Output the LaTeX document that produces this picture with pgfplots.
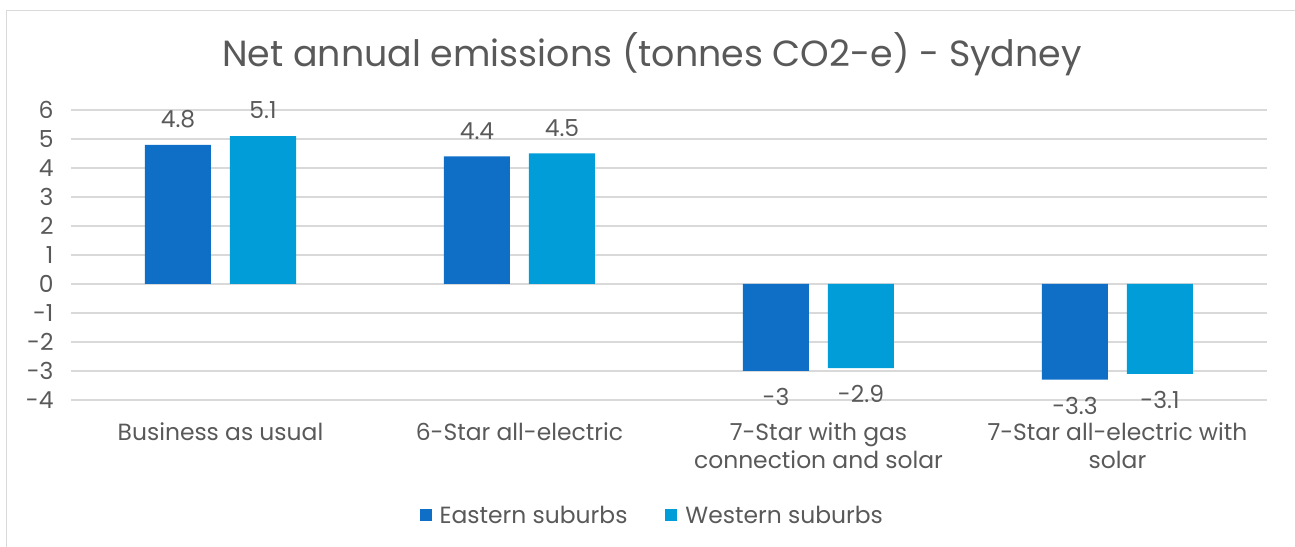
\documentclass[border=0pt]{standalone}
\usepackage{pgfplots}
\pgfplotsset{compat=1.18}
\usepackage{fontspec}
\setmainfont{Poppins}
\definecolor{eastern}{HTML}{0F6FC6}
\definecolor{western}{HTML}{009DD9}
\definecolor{txt}{HTML}{595959}
\definecolor{gridgray}{HTML}{D9D9D9}
\newcommand{\lblfont}{\fontsize{23.5}{28.5}\selectfont}
\begin{document}
\begin{tikzpicture}[x=1bp,y=1bp]
\useasboundingbox (0,0) rectangle (1295,547);
% chart frame (left and top edges)
\draw[gridgray, line width=1.5bp] (6.5,0) -- (6.5,536.5) -- (1295,536.5);
\node[txt, anchor=base, font=\fontsize{36.5}{40}\selectfont] at (652,480)
  {Net annual emissions (tonnes CO2-e) - Sydney};
\begin{axis}[
  at={(71bp,147bp)}, anchor=south west,
  scale only axis, width=1196bp, height=290bp,
  xmin=-0.5, xmax=3.5, ymin=-4, ymax=6,
  ytick={-4,-3,...,6},
  xtick={0,1,2,3},
  xticklabels={Business as usual, 6-Star all-electric,
    {7-Star with gas\\connection and solar},
    {7-Star all-electric with\\solar}},
  /pgf/number format/assume math mode=true,
  axis line style={draw=none},
  major tick length=0pt,
  ymajorgrids,
  grid style={gridgray, line width=1.5bp},
  ticklabel style={text=txt, font=\lblfont},
  xticklabel style={align=center, yshift=-19bp},
  yticklabel style={xshift=-14bp},
  ybar=19bp, bar width=66bp,
  nodes near coords,
  every node near coord/.append style={text=txt, font=\lblfont, inner ysep=17bp},
  legend columns=2,
  legend style={at={(0.486,-0.397)}, anchor=center, draw=none, fill=none,
    font=\lblfont, text=txt,
    /tikz/every even column/.append style={column sep=36bp}},
  legend image code/.code={\fill[#1,draw=none] (0bp,-6bp) rectangle (12bp,6bp);},
  legend cell align=left,
]
\addplot[fill=eastern, draw=none] coordinates {(0,4.8) (1,4.4) (2,-3) (3,-3.3)};
\addlegendentry{\hspace{6bp}Eastern suburbs}
\addplot[fill=western, draw=none] coordinates {(0,5.1) (1,4.5) (2,-2.9) (3,-3.1)};
\addlegendentry{\hspace{6bp}Western suburbs}
\end{axis}
\end{tikzpicture}
\end{document}
